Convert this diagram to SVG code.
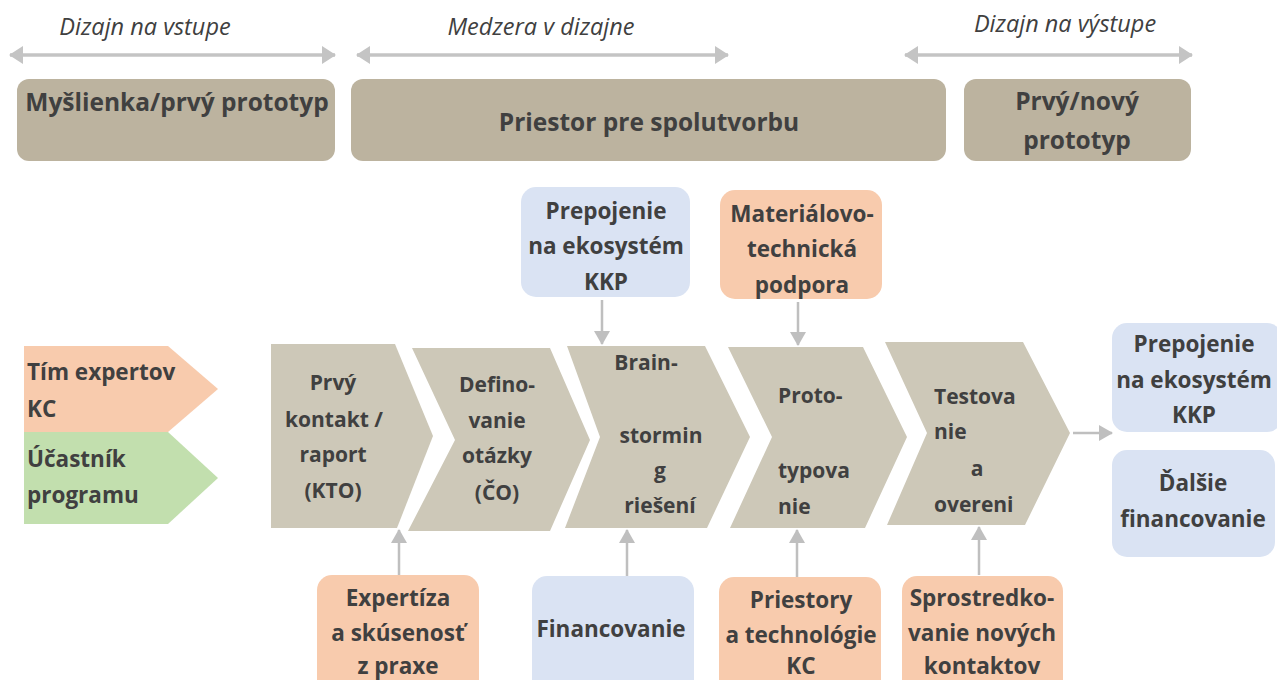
<svg xmlns="http://www.w3.org/2000/svg" width="1277" height="680" viewBox="0 0 1277 680">
<defs>
<marker id="ah" viewBox="0 0 14 18" refX="13" refY="9" markerWidth="14" markerHeight="18" markerUnits="userSpaceOnUse" orient="auto-start-reverse">
<path d="M0,0 L14,9 L0,18 Z" fill="#c4c4c4"/>
</marker>
<marker id="ah2" viewBox="0 0 14 16" refX="13" refY="8" markerWidth="14" markerHeight="16" markerUnits="userSpaceOnUse" orient="auto">
<path d="M0,0 L14,8 L0,16 Z" fill="#bfbfbf"/>
</marker>
</defs>
<style>
.t{font-family:"Open Sans","Liberation Sans",sans-serif;font-weight:bold;fill:#404040;font-size:22.5px}
.c{font-size:21px}
.tm{text-anchor:middle}
.big{font-size:24.5px}
.it{font-family:"Open Sans","Liberation Sans",sans-serif;font-style:italic;fill:#404040;font-size:23.5px;text-anchor:middle}
.top{fill:#bcb39f}
.chev{fill:#cdc8b8}
.or{fill:#f8cbad}
.bl{fill:#dae3f3}
.gr{fill:#c2dfae}
.con{stroke:#bfbfbf;stroke-width:2.5;fill:none}
.dbl{stroke:#c4c4c4;stroke-width:3.5;fill:none}
</style>
<rect width="1277" height="680" fill="#ffffff"/>

<g id="labels">
<text class="it" x="145" y="35">Dizajn na vstupe</text>
<text class="it" x="541" y="35">Medzera v dizajne</text>
<text class="it" x="1065" y="32">Dizajn na výstupe</text>
</g>

<g id="connectors">
<line class="dbl" x1="10" y1="55" x2="335" y2="55" marker-start="url(#ah)" marker-end="url(#ah)"/>
<line class="dbl" x1="357" y1="55" x2="728" y2="55" marker-start="url(#ah)" marker-end="url(#ah)"/>
<line class="dbl" x1="905" y1="55" x2="1192" y2="55" marker-start="url(#ah)" marker-end="url(#ah)"/>
<line class="con" x1="602" y1="300" x2="602" y2="344" marker-end="url(#ah2)"/>
<line class="con" x1="798" y1="302" x2="798" y2="345" marker-end="url(#ah2)"/>
<line class="con" x1="399" y1="575" x2="399" y2="530" marker-end="url(#ah2)"/>
<line class="con" x1="627" y1="576" x2="627" y2="530" marker-end="url(#ah2)"/>
<line class="con" x1="797" y1="577" x2="797" y2="530" marker-end="url(#ah2)"/>
<line class="con" x1="979" y1="575" x2="979" y2="527" marker-end="url(#ah2)"/>
<line class="con" x1="1073" y1="433" x2="1112" y2="433" marker-end="url(#ah2)"/>
</g>

<g id="n-myslienka">
<rect class="top" x="17" y="79" width="318" height="82" rx="12"/>
<text class="t tm big" x="177" y="111">Myšlienka/prvý prototyp</text>
</g>
<g id="n-priestor">
<rect class="top" x="351" y="79" width="595" height="82" rx="12"/>
<text class="t tm big" x="649" y="131">Priestor pre spolutvorbu</text>
</g>
<g id="n-prvy-novy">
<rect class="top" x="964" y="79" width="227" height="82" rx="12"/>
<text class="t tm big" x="1077" y="110">Prvý/nový</text>
<text class="t tm big" x="1077" y="149">prototyp</text>
</g>

<g id="n-tim">
<path class="or" d="M24,346 H168 L218,389 L168,432 H24 Z"/>
<text class="t" x="27" y="380">Tím expertov</text>
<text class="t" x="27" y="417">KC</text>
</g>
<g id="n-ucastnik">
<path class="gr" d="M24,432 H168 L218,478 L168,524 H24 Z"/>
<text class="t" x="27" y="467">Účastník</text>
<text class="t" x="27" y="503">programu</text>
</g>

<g id="n-kontakt">
<path class="chev" d="M271,344 H395 L433,436 L397,528 H271 Z"/>
<text class="t c tm" x="333" y="390">Prvý</text>
<text class="t c tm" x="334" y="427">kontakt /</text>
<text class="t c tm" x="333" y="462">raport</text>
<text class="t c tm" x="333" y="498">(KTO)</text>
</g>
<g id="n-definovanie">
<path class="chev" d="M412,348 H550 L590,440 L550,531 H408 L455,440 Z"/>
<text class="t c tm" x="497" y="392">Defino-</text>
<text class="t c tm" x="497" y="428">vanie</text>
<text class="t c tm" x="497" y="463">otázky</text>
<text class="t c tm" x="497" y="500">(ČO)</text>
</g>
<g id="n-brainstorming">
<path class="chev" d="M567,346 H705 L750,437 L707,528 H565 L600,437 Z"/>
<text class="t c tm" x="646" y="370">Brain-</text>
<text class="t c tm" x="661" y="443">stormin</text>
<text class="t c tm" x="660" y="478">g</text>
<text class="t c tm" x="660" y="513">riešení</text>
</g>
<g id="n-prototypovanie">
<path class="chev" d="M728,347 H863 L907,437 L865,528 H730 L772,437 Z"/>
<text class="t c" x="778" y="403">Proto-</text>
<text class="t c" x="778" y="478">typova</text>
<text class="t c" x="778" y="514">nie</text>
</g>
<g id="n-testovanie">
<path class="chev" d="M885,342 H1023 L1070,433 L1025,525 H887 L927,433 Z"/>
<text class="t c" x="934" y="404">Testova</text>
<text class="t c" x="934" y="439">nie</text>
<text class="t c tm" x="977" y="476">a</text>
<text class="t c" x="934" y="512">overeni</text>
</g>

<g id="n-prepojenie-top">
<rect class="bl" x="521" y="187" width="169" height="110" rx="15"/>
<text class="t tm" x="606" y="219">Prepojenie</text>
<text class="t tm" x="606" y="254">na ekosystém</text>
<text class="t tm" x="606" y="290">KKP</text>
</g>
<g id="n-materialovo">
<rect class="or" x="720" y="190" width="162" height="109" rx="15"/>
<text class="t tm" x="802" y="222">Materiálovo-</text>
<text class="t tm" x="802" y="257">technická</text>
<text class="t tm" x="802" y="293">podpora</text>
</g>

<g id="n-prepojenie-right">
<rect class="bl" x="1112" y="323" width="170" height="109" rx="15"/>
<text class="t tm" x="1194" y="352">Prepojenie</text>
<text class="t tm" x="1194" y="388">na ekosystém</text>
<text class="t tm" x="1194" y="423">KKP</text>
</g>
<g id="n-dalsie">
<rect class="bl" x="1112" y="450" width="163" height="107" rx="15"/>
<text class="t tm" x="1193" y="491">Ďalšie</text>
<text class="t tm" x="1193" y="527">financovanie</text>
</g>

<g id="n-expertiza">
<rect class="or" x="317" y="575" width="162" height="120" rx="15"/>
<text class="t tm" x="398" y="606">Expertíza</text>
<text class="t tm" x="398" y="641">a skúsenosť</text>
<text class="t tm" x="398" y="674">z praxe</text>
</g>
<g id="n-financovanie">
<rect class="bl" x="532" y="576" width="162" height="120" rx="15"/>
<text class="t tm" x="611" y="637">Financovanie</text>
</g>
<g id="n-priestory">
<rect class="or" x="719" y="577" width="162" height="120" rx="15"/>
<text class="t tm" x="801" y="608">Priestory</text>
<text class="t tm" x="801" y="643">a technológie</text>
<text class="t tm" x="801" y="674">KC</text>
</g>
<g id="n-sprostredkovanie">
<rect class="or" x="902" y="576" width="161" height="120" rx="15"/>
<text class="t tm" x="982" y="606">Sprostredko-</text>
<text class="t tm" x="982" y="641">vanie nových</text>
<text class="t tm" x="982" y="674">kontaktov</text>
</g>
</svg>
